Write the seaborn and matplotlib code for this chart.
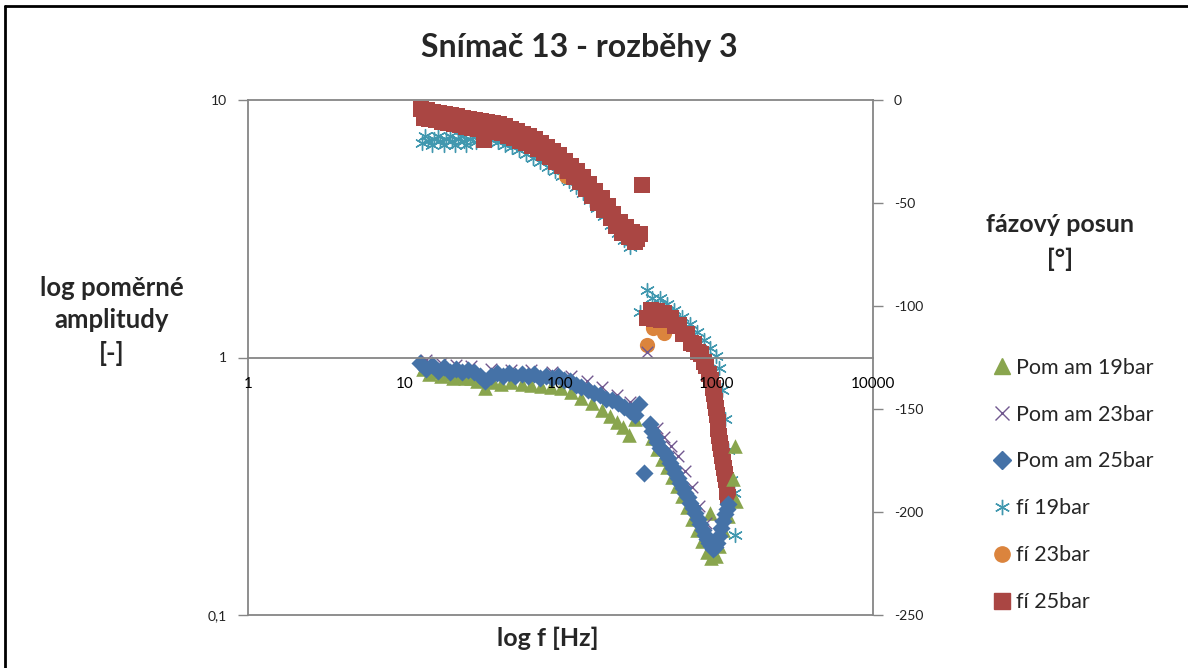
import numpy as np
import pandas as pd
import seaborn as sns
import matplotlib.pyplot as plt
from matplotlib.lines import Line2D
from matplotlib.ticker import FixedLocator, FixedFormatter, NullLocator

# --- data ---
# amplitude ratio (left, log axis)
f_am19 = [13.1, 14.3, 15.6, 17.1, 18.7, 20.5, 22.4, 24.5, 26.7, 29.3, 32.9, 37.1, 41.7, 48.3, 56.3,
          65, 75.3, 87, 101, 117, 136, 158, 183, 207, 230, 251, 274, 300,
          386, 416, 445, 480, 518, 556, 600, 646, 695, 751, 807, 869, 922, 982, 1037, 908, 1101,
          1186, 1310, 1330, 1272]
am19 = [0.906, 0.859, 0.875, 0.844, 0.859, 0.836, 0.844, 0.829, 0.829, 0.807, 0.758, 0.800, 0.792,
        0.800, 0.792, 0.785, 0.778, 0.771, 0.758, 0.732, 0.699, 0.663, 0.628, 0.595, 0.564, 0.535,
        0.502, 0.579, 0.485, 0.443, 0.405, 0.374, 0.345, 0.316, 0.289, 0.262, 0.237, 0.213, 0.193,
        0.176, 0.167, 0.170, 0.186, 0.248, 0.213, 0.243, 0.455, 0.278, 0.338]

f_am23 = [13.7, 17.1, 21.4, 26.7, 36, 48.3, 65, 87.6, 117, 147, 183, 230, 277, 356,
          416, 460, 509, 566, 628, 695, 771, 855, 950, 1052, 1150]
am23 = [0.982, 0.956, 0.939, 0.923, 0.906, 0.898, 0.898, 0.882, 0.851, 0.807, 0.765, 0.718, 0.669,
        1.046, 0.530, 0.493, 0.455, 0.413, 0.364, 0.313, 0.266, 0.227, 0.195, 0.223, 0.259]

f_am25 = [12.7, 13.7, 15, 16.4, 17.9, 19.6, 21.4, 23.4, 25.6, 28, 30.6, 32.9, 36, 39.4, 43.1, 47.1,
          51.5, 56.3, 61.6, 67.3, 73.6, 80.5, 88, 96, 105, 115, 125, 136, 149, 163, 178, 195, 213,
          233, 255, 278, 300, 318, 342,
          373, 386, 400, 416, 433, 449, 466, 484, 502, 521, 541, 561, 583, 605, 628, 651, 674, 701,
          728, 755, 783, 812, 841, 868, 895, 922, 950, 978, 1007, 1037, 1068, 1100, 1133, 1160, 1186]
am25 = [0.956, 0.906, 0.931, 0.890, 0.915, 0.882, 0.906, 0.875, 0.898, 0.875, 0.851, 0.807, 0.844,
        0.867, 0.851, 0.867, 0.844, 0.859, 0.844, 0.859, 0.836, 0.851, 0.829, 0.844, 0.821, 0.807,
        0.785, 0.771, 0.751, 0.731, 0.712, 0.693, 0.681, 0.663, 0.645, 0.622, 0.600, 0.657, 0.357,
        0.554, 0.520, 0.493, 0.468, 0.447, 0.436, 0.424, 0.406, 0.391, 0.373, 0.357, 0.341, 0.327,
        0.312, 0.299, 0.286, 0.273, 0.260, 0.248, 0.236, 0.225, 0.214, 0.204, 0.197, 0.190, 0.185,
        0.180, 0.184, 0.191, 0.203, 0.217, 0.231, 0.246, 0.258, 0.271]

# phase shift (right axis, degrees)
f_fi19 = [12.9, 14.1, 15.5, 16.9, 18.5, 20.2, 22.1, 24.2, 26.4, 28.8,
          13.5, 15, 16.5, 18, 19.5, 21, 23, 25, 27.5,
          36, 40, 44.1, 49, 54.5, 60.3, 67, 74.4, 82.6, 91.6, 101.7, 113, 125, 139, 154, 171, 189,
          210, 233, 255, 277,
          323, 356, 385, 433, 481, 531, 600, 674, 751, 831, 908, 982, 1037, 1084, 1133, 1186, 1237,
          1290, 1310]
fi19 = [-20.9, -19.9, -18.9, -19.9, -18.9, -19.9, -18.9, -19.9, -18.9, -20.4,
        -17.5, -22, -17.5, -22, -17.5, -22, -17.5, -22, -18,
        -19.4, -20.4, -21.8, -22.8, -24.3, -26.2, -28.2, -30.1, -32.5, -34.5, -36.9, -39.3, -42.2,
        -45.1, -48.5, -52.4, -56.3, -60.7, -64.6, -68, -71.4,
        -103, -92.2, -96, -96, -99, -102, -105.3, -108.7, -112.6, -116.5, -120.4, -124.3, -130,
        -141, -155, -170, -184.5, -191, -211]

f_fi23 = [13.7, 17.2, 21.4, 26.7, 33.4, 41.7, 52, 65, 81, 101, 109, 127, 158, 197, 247, 295,
          356, 389, 460, 541, 609, 685, 760, 831, 895, 950, 1007, 1052, 1116, 1169]
fi23 = [-6, -8, -10, -11, -12.5, -13.5, -16, -20, -24.5, -29.5, -37, -37, -44, -53, -61, -67,
        -119, -110.7, -113, -109, -112.6, -117, -121.4, -126.2, -132, -138.8, -152.4, -166, -178.2,
        -189.3]

f_fi25 = [12.8, 13.3, 13.9, 14.5, 15.2, 15.9, 16.6, 17.4, 18.2, 19.0, 19.9, 20.8, 21.7, 22.7, 23.7,
          24.8, 25.9, 27.1, 28.3, 29.6, 30.9, 32.3, 33.8, 35.3, 36.9, 38.6, 40.3, 42.2, 44.1, 46.1,
          48.2, 50.4, 52.6, 55.0, 57.5, 60.1, 62.9, 65.7, 68.7, 71.8, 75.0, 78.4, 82.0, 85.7, 89.6,
          93.6, 97.9, 102, 107, 112, 117, 122, 128, 134, 140, 146, 153, 160, 167, 175, 183, 191,
          200, 209, 218, 228, 239, 249, 261, 273, 285, 298, 311, 325, 333,
          357, 379, 396, 414, 440, 460, 481, 510, 541, 574, 609, 646, 686, 717, 760, 795, 831, 856,
          895, 922, 950, 964, 978, 993, 1007, 1022, 1022, 1038, 1053, 1069, 1085, 1101, 1117, 1134,
          1151, 1168, 1168, 1186]
fi25 = [-4.4, -8.6, -5.0, -9.3, -5.6, -9.9, -6.2, -10.5, -6.8, -11.2, -7.5, -11.8, -8.0, -12.3,
        -8.6, -12.9, -9.2, -13.5, -9.7, -14.0, -10.3, -19.4, -10.8, -15.1, -11.2, -15.5, -11.7,
        -16.0, -12.7, -17.3, -13.9, -18.5, -15.1, -19.8, -16.3, -21.0, -17.6, -22.2, -18.9, -23.9,
        -20.9, -25.9, -22.9, -27.9, -24.9, -29.9, -26.9, -32.0, -29.4, -34.7, -32.0, -37.3, -34.6,
        -39.9, -37.5, -43.2, -40.8, -46.5, -44.2, -49.9, -47.5, -53.5, -51.4, -57.4, -55.4, -61.4,
        -59.2, -64.4, -61.6, -66.7, -63.9, -69.1, -67.5, -65.0, -41.3,
        -105.8, -101.9, -106.3, -102.4, -106.8, -103.4, -106.8, -105.8, -109.7, -109.2, -113.6,
        -113.6, -118, -118.4, -122.3, -123.3, -127.2, -129.1, -133, -135.9, -139.8, -142.7, -146.1,
        -149.5, -152.9, -156.3, -159.7, -163.1, -166.5, -169.4, -172.8, -175.7, -178.6, -181.6,
        -184.5, -187.4, -190.3, -192.7]

x_ticks = [1, 10, 100, 1000, 10000]
x_tick_labels = ["1", "10", "100", "1000", "10000"]
y_ticks = [0.1, 1, 10]
y_tick_labels = ["0,1", "1", "10"]
y2_ticks = [0, -50, -100, -150, -200, -250]

sns.set_style("white")
plt.rcParams['font.family'] = ['Lato', 'DejaVu Sans']

grey = "#868686"
c_green = "#89A54E"
c_purple = "#71588F"
c_blue = "#4572A7"
c_aqua = "#4198AF"
c_orange = "#DB843D"
c_red = "#AA4643"

fig = plt.figure(figsize=(11.88, 6.68), dpi=100)
ax = fig.add_axes([248 / 1188, 1 - 615 / 668, 625 / 1188, 515 / 668])
ax.set_xscale("log")
ax.set_yscale("log")

sns.scatterplot(x=f_am19, y=am19, ax=ax, marker="^", color=c_green, s=110, linewidth=0, zorder=2)
sns.scatterplot(x=f_am23, y=am23, ax=ax, marker="x", color=c_purple, s=70, linewidth=1, zorder=2)
sns.scatterplot(x=f_am25, y=am25, ax=ax, marker="D", color=c_blue, s=85, linewidth=0, zorder=2)

ax.set_xlim(1, 10000)
ax.set_ylim(0.1, 10)
ax.xaxis.set_major_locator(FixedLocator(x_ticks))
ax.xaxis.set_major_formatter(FixedFormatter(x_tick_labels))
ax.yaxis.set_major_locator(FixedLocator(y_ticks))
ax.yaxis.set_major_formatter(FixedFormatter(y_tick_labels))
ax.xaxis.set_minor_locator(NullLocator())
ax.yaxis.set_minor_locator(NullLocator())
ax.xaxis.set_zorder(5)

for s in ["left", "top", "bottom"]:
    ax.spines[s].set_color(grey)
    ax.spines[s].set_linewidth(1.3)
ax.spines["right"].set_visible(False)
ax.spines["bottom"].set_position(("data", 1))
ax.axhline(0.1, color=grey, lw=1.3, clip_on=False, zorder=1)
ax.tick_params(axis="y", direction="out", length=7, width=1, color=grey, labelsize=10, pad=8,
               labelcolor="#222222")
ax.tick_params(axis="x", direction="out", length=4, width=1, color=grey, labelsize=11, pad=10,
               labelcolor="black")

ax2 = ax.twinx()
sns.scatterplot(x=f_fi19, y=fi19, ax=ax2, marker=(6, 2, 0), color=c_aqua, s=100, linewidth=1)
sns.scatterplot(x=f_fi23, y=fi23, ax=ax2, marker="o", color=c_orange, s=120, linewidth=0)
sns.scatterplot(x=f_fi25, y=fi25, ax=ax2, marker="s", color=c_red, s=130, linewidth=0)
ax2.set_ylim(-250, 0)
ax2.set_yticks(y2_ticks)
ax2.set_yticklabels([str(v) for v in y2_ticks])
for s in ["left", "top", "bottom"]:
    ax2.spines[s].set_visible(False)
ax2.spines["right"].set_color(grey)
ax2.spines["right"].set_linewidth(1.3)
ax2.tick_params(axis="y", direction="out", length=7, width=1, color=grey, labelsize=10, pad=8,
                labelcolor="#222222")
ax.set_xlabel("")
ax.set_ylabel("")
ax2.set_ylabel("")
# amplitude axes on top so its tick labels stay readable over the phase markers
ax.set_zorder(ax2.get_zorder() + 1)
ax.patch.set_visible(False)

# titles and axis labels
fig.text(0.488, 1 - 47 / 668, "Snímač 13 - rozběhy 3", ha="center", va="center",
         fontsize=23, fontweight="bold")
fig.text(112 / 1188, 1 - 321 / 668, "log poměrné\namplitudy\n[-]", ha="center", va="center",
         fontsize=18.5, fontweight="bold", linespacing=1.42)
fig.text(1060 / 1188, 1 - 242 / 668, "fázový posun\n[°]", ha="center", va="center",
         fontsize=18, fontweight="bold", linespacing=1.6)
fig.text(548 / 1188, 1 - 638 / 668, "log f [Hz]", ha="center", va="center",
         fontsize=18, fontweight="bold")

# legend
handles = [
    Line2D([], [], ls="", marker="^", color=c_green, markersize=12),
    Line2D([], [], ls="", marker="x", color=c_purple, markersize=10, mew=1),
    Line2D([], [], ls="", marker="D", color=c_blue, markersize=9),
    Line2D([], [], ls="", marker=(6, 2, 0), color=c_aqua, markersize=11, mew=1),
    Line2D([], [], ls="", marker="o", color=c_orange, markersize=11),
    Line2D([], [], ls="", marker="s", color=c_red, markersize=11),
]
labels = ["Pom am 19bar", "Pom am 23bar", "Pom am 25bar", "fí 19bar", "fí 23bar", "fí 25bar"]
fig.legend(handles, labels, loc="upper left", bbox_to_anchor=(982 / 1188, 1 - 349 / 668),
           frameon=False, fontsize=15.5, labelspacing=1.25, handletextpad=0.1, handlelength=1.1,
           borderaxespad=0)

# chart border
fig.add_artist(Line2D([5 / 1188, 5 / 1188], [0, 1 - 6 / 668], transform=fig.transFigure,
                      color="black", lw=2))
fig.add_artist(Line2D([5 / 1188, 1], [1 - 6 / 668, 1 - 6 / 668], transform=fig.transFigure,
                      color="black", lw=2))

fig.savefig("out.png", dpi=100)
